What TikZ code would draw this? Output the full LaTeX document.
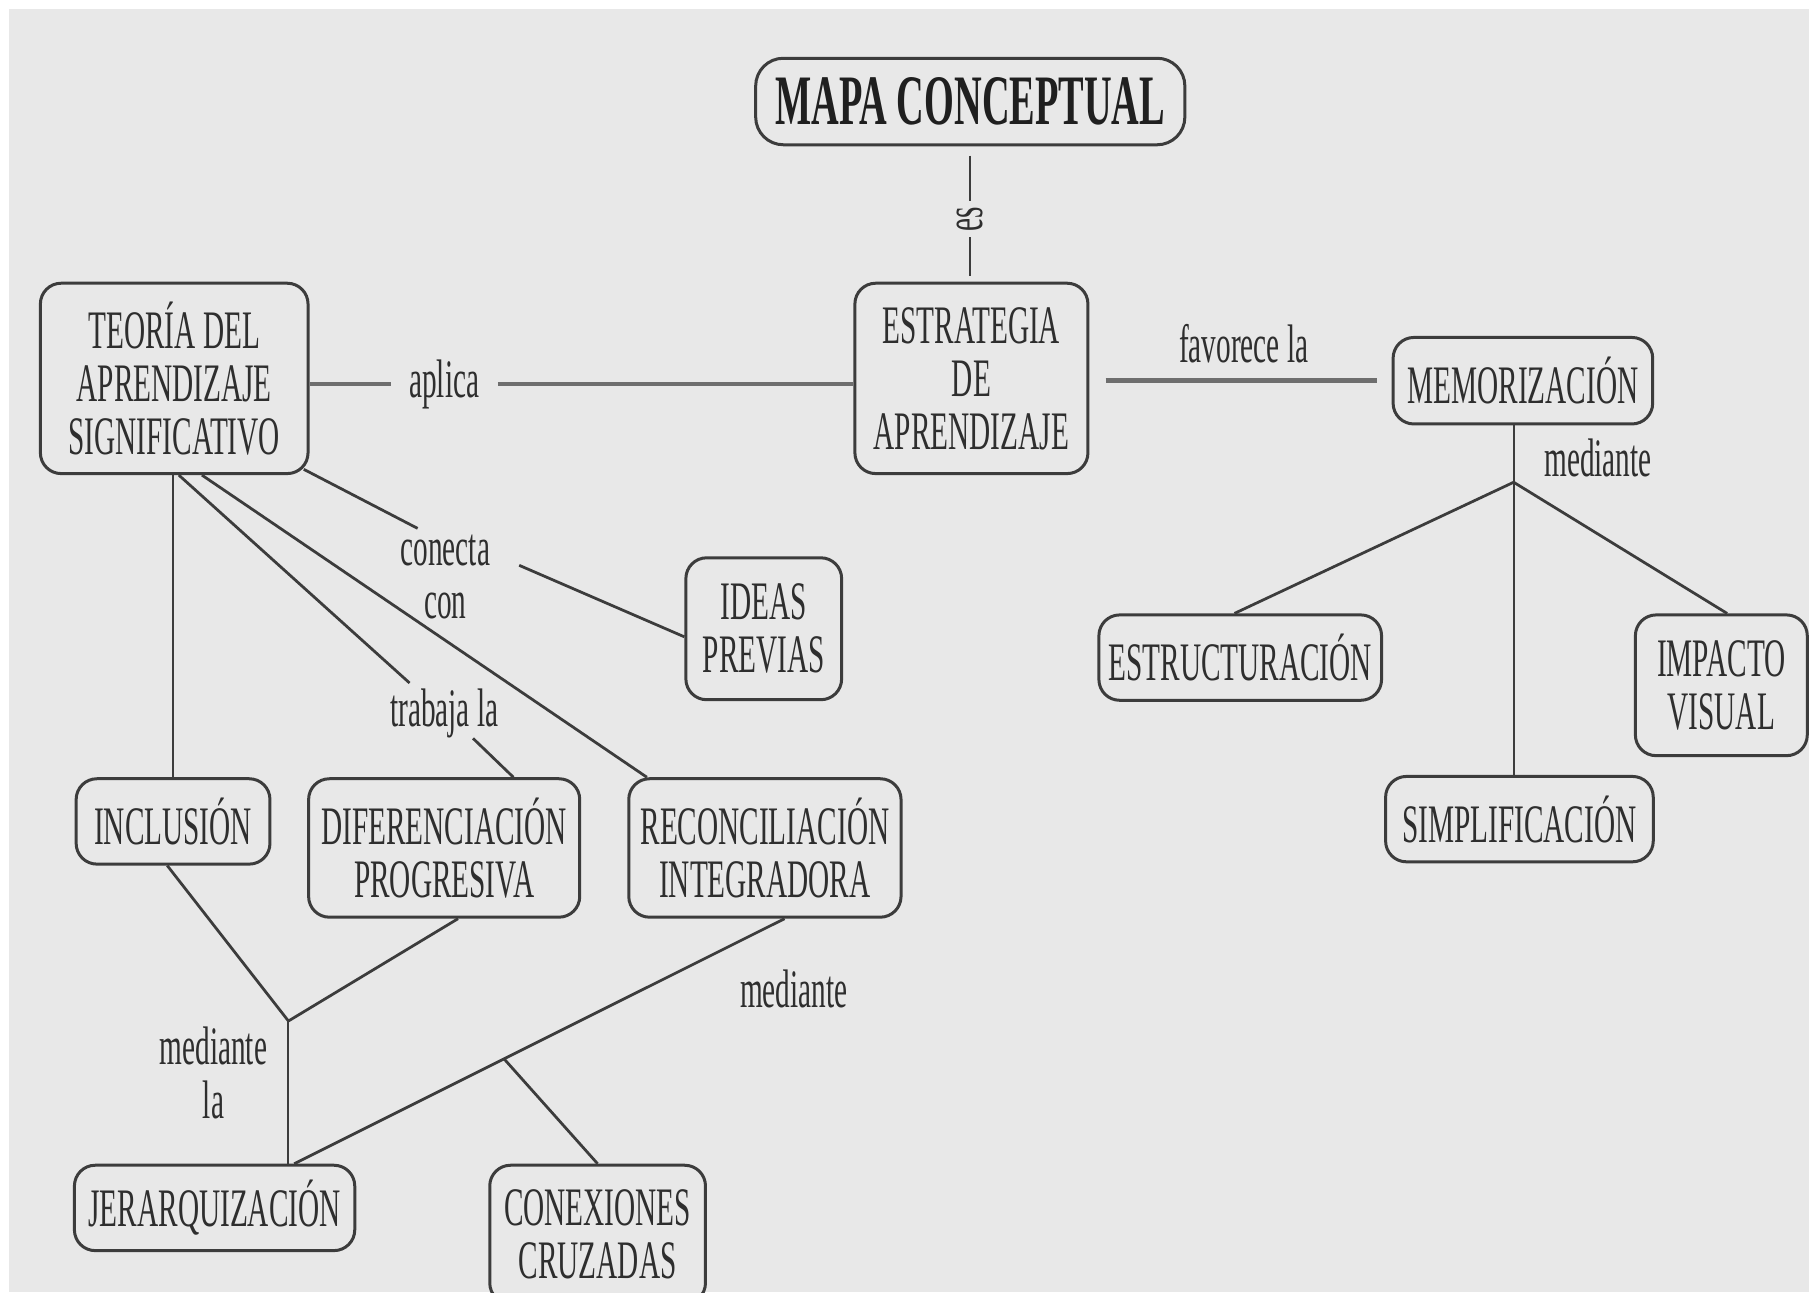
\documentclass[tikz,border=0pt]{standalone}
\usepackage{fontspec}
\setmainfont{Liberation Serif}[FakeStretch=0.54]
\usetikzlibrary{calc}
\definecolor{bg}{HTML}{E8E8E8}
\definecolor{ink}{HTML}{2E2E2E}
\definecolor{edge}{HTML}{3C3C3C}
\definecolor{hline}{HTML}{6E6E6E}
\tikzset{
 concept/.style={draw=edge, line width=2.6pt, rounded corners=18pt, fill=bg, text=ink, align=center, inner sep=0pt, font=\fontsize{47}{46}\selectfont},
 lbl/.style={text=ink, align=center, inner sep=0pt, font=\fontsize{47}{46}\selectfont},
 link/.style={draw=edge, line width=2.4pt},
 thinlink/.style={draw=edge, line width=1.8pt},
 thicklink/.style={draw=hline, line width=4pt},
}
\begin{document}
\begin{tikzpicture}[x=1pt,y=1pt]
\fill[white] (0,0) rectangle (1568,1120);
\fill[bg] (8,0) rectangle (1568,1112);
\useasboundingbox (0,0) rectangle (1568,1120);

% concepts
\node[concept, minimum width=372pt, minimum height=75pt, rounded corners=24pt, font=\fontsize{61.5}{60}\selectfont\bfseries, text=black!88] (title) at (841,1032) {MAPA CONCEPTUAL};
\node[concept, minimum width=202pt, minimum height=165pt] (estr) at (842,792) {ESTRATEGIA\\DE\\APRENDIZAJE};
\node[concept, minimum width=232pt, minimum height=165pt] (teoria) at (151,792) {TEORÍA DEL\\APRENDIZAJE\\SIGNIFICATIVO};
\node[concept, minimum width=225pt, minimum height=75pt] (memo) at (1320,790) {MEMORIZACIÓN};
\node[concept, minimum width=135pt, minimum height=123pt] (ideas) at (662,575) {IDEAS\\PREVIAS};
\node[concept, minimum width=245pt, minimum height=74pt] (estruc) at (1075,550) {ESTRUCTURACIÓN};
\node[concept, minimum width=149pt, minimum height=122pt] (impacto) at (1492,526) {IMPACTO\\VISUAL};
\node[concept, minimum width=232pt, minimum height=74pt] (simpl) at (1317,410) {SIMPLIFICACIÓN};
\node[concept, minimum width=168pt, minimum height=74pt] (incl) at (150,408) {INCLUSIÓN};
\node[concept, minimum width=235pt, minimum height=120pt] (dif) at (385,385) {DIFERENCIACIÓN\\PROGRESIVA};
\node[concept, minimum width=236pt, minimum height=120pt] (rec) at (663,385) {RECONCILIACIÓN\\INTEGRADORA};
\node[concept, minimum width=243pt, minimum height=74pt] (jer) at (186,73) {JERARQUIZACIÓN};
\node[concept, minimum width=187pt, minimum height=120pt] (con) at (518,50) {CONEXIONES\\CRUZADAS};

% link labels
\node[lbl, rotate=90] (es) at (841,930) {es};
\node[lbl] (ap) at (385,787) {aplica};
\node[lbl] (fav) at (1078,822) {favorece la};
\node[lbl] (med1) at (1385,723) {mediante};
\node[lbl] (cc) at (386,620) {conecta\\con};
\node[lbl] (tr) at (385,502) {trabaja la};
\node[lbl] (med2) at (185,190) {mediante\\la};
\node[lbl] (med3) at (688,263) {mediante};

% connectors
\draw[thinlink, shorten <=8pt, shorten >=5pt] (title) -- (es);
\draw[thinlink, shorten <=5pt, shorten >=5pt] (es) -- (es |- estr.north);
\draw[thicklink, shorten >=16pt] (ap -| teoria.east) -- (ap);
\draw[thicklink, shorten <=16pt] (ap) -- (ap -| estr.west);
\draw[thicklink, shorten <=14pt, shorten >=13pt] (estr.east |- memo.west) -- (memo.west);

\coordinate (j1) at (1312,702);
\draw[thinlink] (memo.south -| j1) -- (j1);
\draw[link] (j1) -- ($(estruc.north)+(-5,0)$);
\draw[link] (j1) -- ($(impacto.north)+(5,0)$);
\draw[thinlink] (j1) -- (j1 |- simpl.north);

\coordinate (cc1) at (362,662);
\coordinate (cc2) at (450,630);
\draw[link] ($(teoria.south east)+(-5,5)$) -- (cc1);
\draw[link] (cc2) -- ($(ideas.west)+(0,-7)$);
\draw[thinlink] (incl.north |- teoria.south) -- (incl.north);
\coordinate (tr1) at (355,528);
\coordinate (tr2) at (410,480);
\draw[link] ($(teoria.south)+(4,0)$) -- (tr1);
\draw[link] (tr2) -- ($(dif.north)+(60,0)$);
\draw[link] ($(teoria.south)+(24,0)$) -- ($(rec.north west)+(17,0)$);
\coordinate (j2) at (250,235);
\draw[link] ($(incl.south)+(-5,0)$) -- (j2);
\draw[link] ($(dif.south)+(12,0)$) -- (j2);
\draw[thinlink] (j2) -- (j2 |- jer.north);
\coordinate (rs) at ($(rec.south)+(17,0)$);
\coordinate (je) at ($(jer.north)+(69,0)$);
\coordinate (j3) at ($(rs)!0.572!(je)$);
\draw[link] (rs) -- (je);
\draw[link] (j3) -- (con.north);
\end{tikzpicture}
\end{document}
